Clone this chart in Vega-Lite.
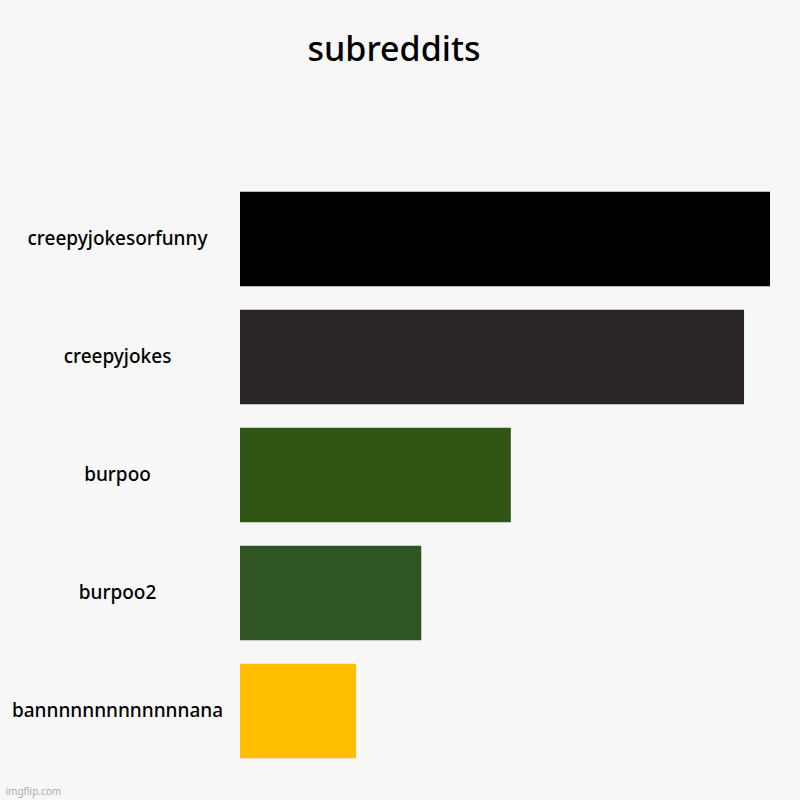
{
  "$schema": "https://vega.github.io/schema/vega-lite/v6.json",
  "autosize": {"type": "none"},
  "padding": {"left": 240, "top": 180, "right": 30, "bottom": 30},
  "width": 530,
  "height": 590,
  "background": "#f7f7f7",
  "title": {
    "text": "subreddits",
    "fontSize": 34,
    "font": "Noto Sans",
    "fontWeight": 500,
    "color": "#000000",
    "anchor": "middle",
    "dx": -111,
    "offset": 112
  },
  "data": {
    "values": [
      {"subreddit": "creepyjokesorfunny", "value": 100, "color": "#000000"},
      {"subreddit": "creepyjokes", "value": 95.1, "color": "#292524"},
      {"subreddit": "burpoo", "value": 51.1, "color": "#315515"},
      {"subreddit": "burpoo2", "value": 34.2, "color": "#305524"},
      {"subreddit": "bannnnnnnnnnnnnana", "value": 21.9, "color": "#ffbf00"}
    ]
  },
  "mark": {"type": "bar"},
  "encoding": {
    "y": {
      "field": "subreddit",
      "type": "nominal",
      "sort": null,
      "scale": {"paddingInner": 0.2, "paddingOuter": 0.1},
      "axis": {
        "title": null,
        "domain": false,
        "ticks": false,
        "labelAlign": "center",
        "labelPadding": 123,
        "labelLimit": 0,
        "labelDy": 5,
        "labelFontSize": 19,
        "labelFontWeight": 500,
        "labelFont": "Noto Sans",
        "labelColor": "#000000"
      }
    },
    "x": {
      "field": "value",
      "type": "quantitative",
      "scale": {"domain": [0, 100]},
      "axis": {
        "title": "imgflip.com",
        "titleFont": "Noto Sans",
        "titleFontSize": 10,
        "titleFontWeight": "normal",
        "titleColor": "#aaaaaa",
        "titleAnchor": "start",
        "titleAlign": "left",
        "titleBaseline": "alphabetic",
        "titleX": -235,
        "titleY": 24,
        "domain": false,
        "ticks": false,
        "labels": false,
        "grid": false
      }
    },
    "color": {"field": "color", "type": "nominal", "scale": null, "legend": null}
  },
  "config": {"view": {"stroke": null}}
}
